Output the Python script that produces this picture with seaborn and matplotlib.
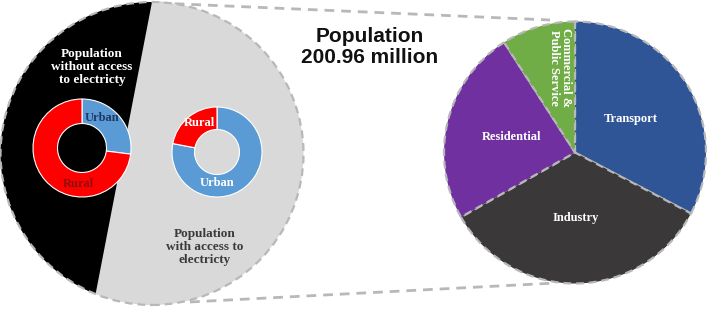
import numpy as np
import matplotlib
matplotlib.use("Agg")
import matplotlib.pyplot as plt
from matplotlib.patches import Circle, Polygon
import seaborn as sns

# ---------------- data ----------------
access_labels = ["Population\nwithout access\nto electricty", "Population\nwith access to\nelectricty"]
access_share = [38, 62]            # % of population (without, with)

donut_labels = ["Urban", "Rural"]
without_access_split = [27, 73]    # urban, rural among population without access
with_access_split = [78, 22]       # urban, rural among population with access

sectors = ["Transport", "Industry", "Residential", "Commercial &\nPublic Service"]
sector_share = [32.7, 34.1, 24.1, 9.1]

title_text = "Population\n200.96 million"

# ---------------- style ----------------
sns.set_theme(style="white")
plt.rcParams["font.family"] = ["DejaVu Sans"]
W, H = 707, 309
fig = plt.figure(figsize=(W / 100, H / 100), dpi=100)
ax = fig.add_axes([0, 0, 1, 1])

def Y(py):
    return H - py

GREY = "#d9d9d9"
EDGE = "#b8b8b8"
DASH = (0, (3.5, 2.2))
SERIF = "Liberation Serif"

# big left circle
bc = (152, Y(153.5))
br = 151.5
ax.add_patch(Circle(bc, br, facecolor=GREY, edgecolor="none", zorder=1))

# black circular segment whose area share equals access_share[0]
f = access_share[0] / sum(access_share)
lo, hi = 0.0, 2 * np.pi
for _ in range(60):
    mid = (lo + hi) / 2
    if (mid - np.sin(mid)) / (2 * np.pi) < f:
        lo = mid
    else:
        hi = mid
theta = (lo + hi) / 2
angs = np.linspace(np.pi / 2, np.pi / 2 + theta, 200)
pts = np.column_stack([bc[0] + br * np.cos(angs), bc[1] + br * np.sin(angs)])
ax.add_patch(Polygon(pts, closed=True, facecolor="black", edgecolor="none", zorder=2))
ax.add_patch(Circle(bc, br, fill=False, edgecolor=EDGE, linewidth=1.6,
                    linestyle=DASH, zorder=3))

# connectors
ax.plot([158, 550], [Y(3), Y(20)], color=EDGE, lw=2.0, ls=(0, (3.5, 2.5)), zorder=0)
ax.plot([190, 556], [Y(302), Y(283)], color=EDGE, lw=2.0, ls=(0, (3.5, 2.5)), zorder=0)

# donuts
blue, red = "#5b9bd5", "#ff0000"
dl = (82, Y(148))
ax.pie(without_access_split, colors=[blue, red], startangle=90, counterclock=False,
       center=dl, radius=49, frame=True,
       wedgeprops=dict(width=24.5, edgecolor="white", linewidth=0.8, zorder=4))
dr = (217, Y(152))
ax.pie(with_access_split, colors=[blue, red], startangle=90, counterclock=False,
       center=dr, radius=45, frame=True,
       wedgeprops=dict(width=22.5, edgecolor="white", linewidth=0.8, zorder=4))

tk = dict(fontfamily=SERIF, fontweight="bold", fontsize=9, ha="center", va="center", zorder=6)
ax.text(dl[0] + 20, dl[1] + 30, donut_labels[0], color="#1f3864", **tk)
ax.text(dl[0] - 4, dl[1] - 36, donut_labels[1], color="#8b1010", **tk)
ax.text(dr[0] - 18, dr[1] + 29, donut_labels[1], color="white", **tk)
ax.text(dr[0], dr[1] - 31, donut_labels[0], color="white", **tk)

tk2 = dict(tk)
tk2["fontsize"] = 9.5
tk2["linespacing"] = 1.15
ax.text(92, Y(67), access_labels[0], color="white", **tk2)
ax.text(205, Y(247), access_labels[1], color="#3a3a3a", **tk2)

# right pie
pc = (575, Y(152.5))
pr = 131
sector_colors = ["#2f5597", "#3a3838", "#7030a0", "#70ad47"]
wedges, texts = ax.pie(sector_share, colors=sector_colors, startangle=90, counterclock=False,
                       center=pc, radius=pr, frame=True,
                       labels=sectors, labeldistance=0.5,
                       textprops=dict(color="white", fontfamily=SERIF, fontweight="bold",
                                      fontsize=9, ha="center", va="center"),
                       wedgeprops=dict(edgecolor=EDGE, linewidth=1.6, linestyle=DASH, zorder=4))
for t in texts:
    t.set_zorder(6)
texts[3].set_position((pc[0] - 15, pc[1] + 85))
texts[3].set_rotation(-90)
texts[3].set_linespacing(1.0)

ax.text(370, Y(47), title_text, color="#111111", fontfamily="Liberation Sans",
        fontweight="bold", fontsize=15, ha="center", va="center", linespacing=1.15, zorder=6)

ax.set_xlim(0, W)
ax.set_ylim(0, H)
ax.set_aspect("equal")
ax.axis("off")
fig.savefig("out.png", dpi=100, facecolor="white")
